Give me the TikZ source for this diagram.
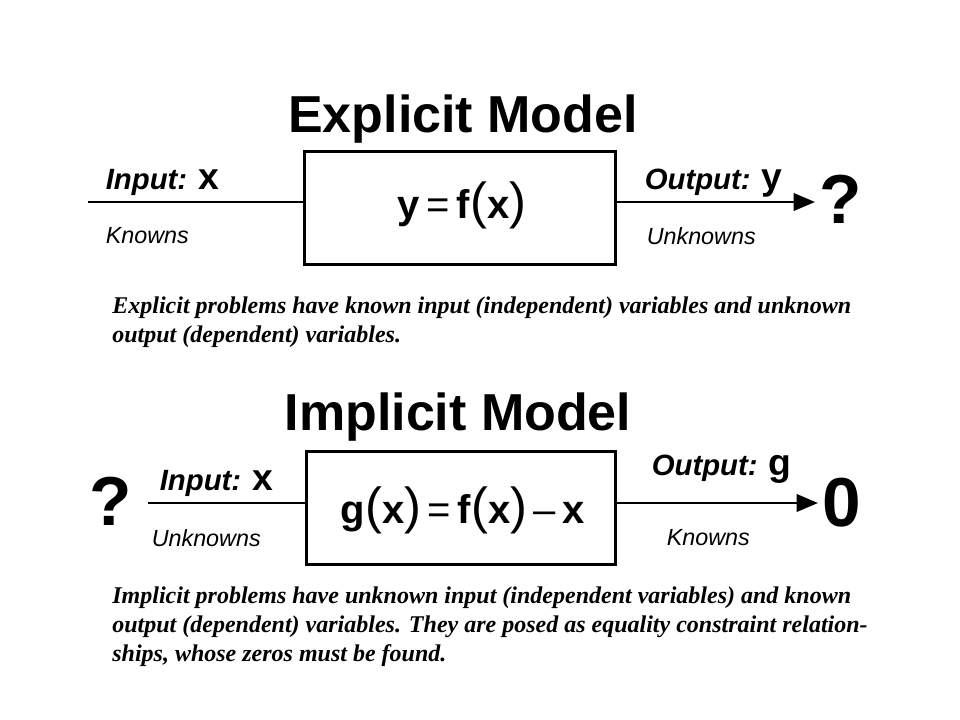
\documentclass[tikz,border=0pt]{standalone}
\usepackage{fontspec}
\setmainfont{Liberation Sans}
\newfontfamily\noteserif{Liberation Serif}
\usepackage{graphicx}
\usetikzlibrary{arrows.meta}

\newcommand{\pr}[1]{{\fontsize{38}{38}\selectfont\mdseries(}#1{\fontsize{38}{38}\selectfont\mdseries)}}
\newcommand{\rel}[1]{{\mdseries\,#1\,}}

\begin{document}
\begin{tikzpicture}[x=0.75pt,y=-0.75pt,line width=2pt,
  title/.style={font=\fontsize{39}{39}\selectfont\bfseries},
  lab/.style={anchor=base west,font=\fontsize{22}{22}\selectfont\bfseries\itshape},
  small/.style={anchor=west,font=\fontsize{17.5}{17.5}\selectfont\itshape},
  big/.style={font=\fontsize{52}{52}\selectfont\bfseries},
  note/.style={anchor=north west,align=left,inner sep=0pt,
    font=\noteserif\fontsize{18}{21.75}\selectfont\bfseries\itshape},
  >={Triangle[length=16pt,width=13pt]}]
\useasboundingbox (0,0) rectangle (960,720);
% explicit model
\node (etitle) at (463,119) [title] {Explicit Model};
\node (ebox) at (460,208) [draw,minimum width=233pt,minimum height=85pt] {};
\node (eform) at (462,205) [font=\fontsize{30}{30}\selectfont\bfseries] {y\rel{=}f\pr{x}};
\coordinate (ein) at (88,202);
\coordinate (eout) at (815,202);
\draw (ein) -- (ebox.west |- ein);
\draw[->] (ebox.east |- eout) -- (eout);
\node (einlab) at (100,190) [lab] {Input: {\upshape\fontsize{28}{28}\selectfont x}};
\node (eknown) at (100,236) [small] {Knowns};
\node (eoutlab) at (639,190) [lab] {Output: {\upshape\fontsize{28}{28}\selectfont y}};
\node (eunknown) at (641,236) [small] {Unknowns};
\node (eq) at (841,199) [big] {?};
\node (enote) at (111,296) [note] {Explicit problems have known input (independent) variables and unknown\\output (dependent) variables.};
% implicit model
\node (ititle) at (458,417) [title] {Implicit Model};
\node (ibox) at (461,508) [draw,minimum width=232pt,minimum height=85pt] {};
\node (iform) at (463,510) [font=\fontsize{30}{30}\selectfont\bfseries] {g\pr{x}\rel{=}f\pr{x}\rel{--}x};
\coordinate (iin) at (148,503);
\coordinate (iout) at (818,503);
\draw (iin) -- (ibox.west |- iin);
\draw[->] (ibox.east |- iout) -- (iout);
\node (iq) at (111,501) [big] {?};
\node (iinlab) at (154,490) [lab] {Input: {\upshape\fontsize{28}{28}\selectfont x}};
\node (iunknown) at (146,538) [small] {Unknowns};
\node (ioutlab) at (646,475) [lab] {Output: {\upshape\fontsize{28}{28}\selectfont g}};
\node (iknown) at (661,538) [small] {Knowns};
\node (izero) at (842,503) [big] {0};
\node (inote) at (111,586) [note] {Implicit problems have unknown input (independent variables) and known\\output (dependent) variables. They are posed as equality constraint relation-\\ships, whose zeros must be found.};
\end{tikzpicture}
\end{document}
